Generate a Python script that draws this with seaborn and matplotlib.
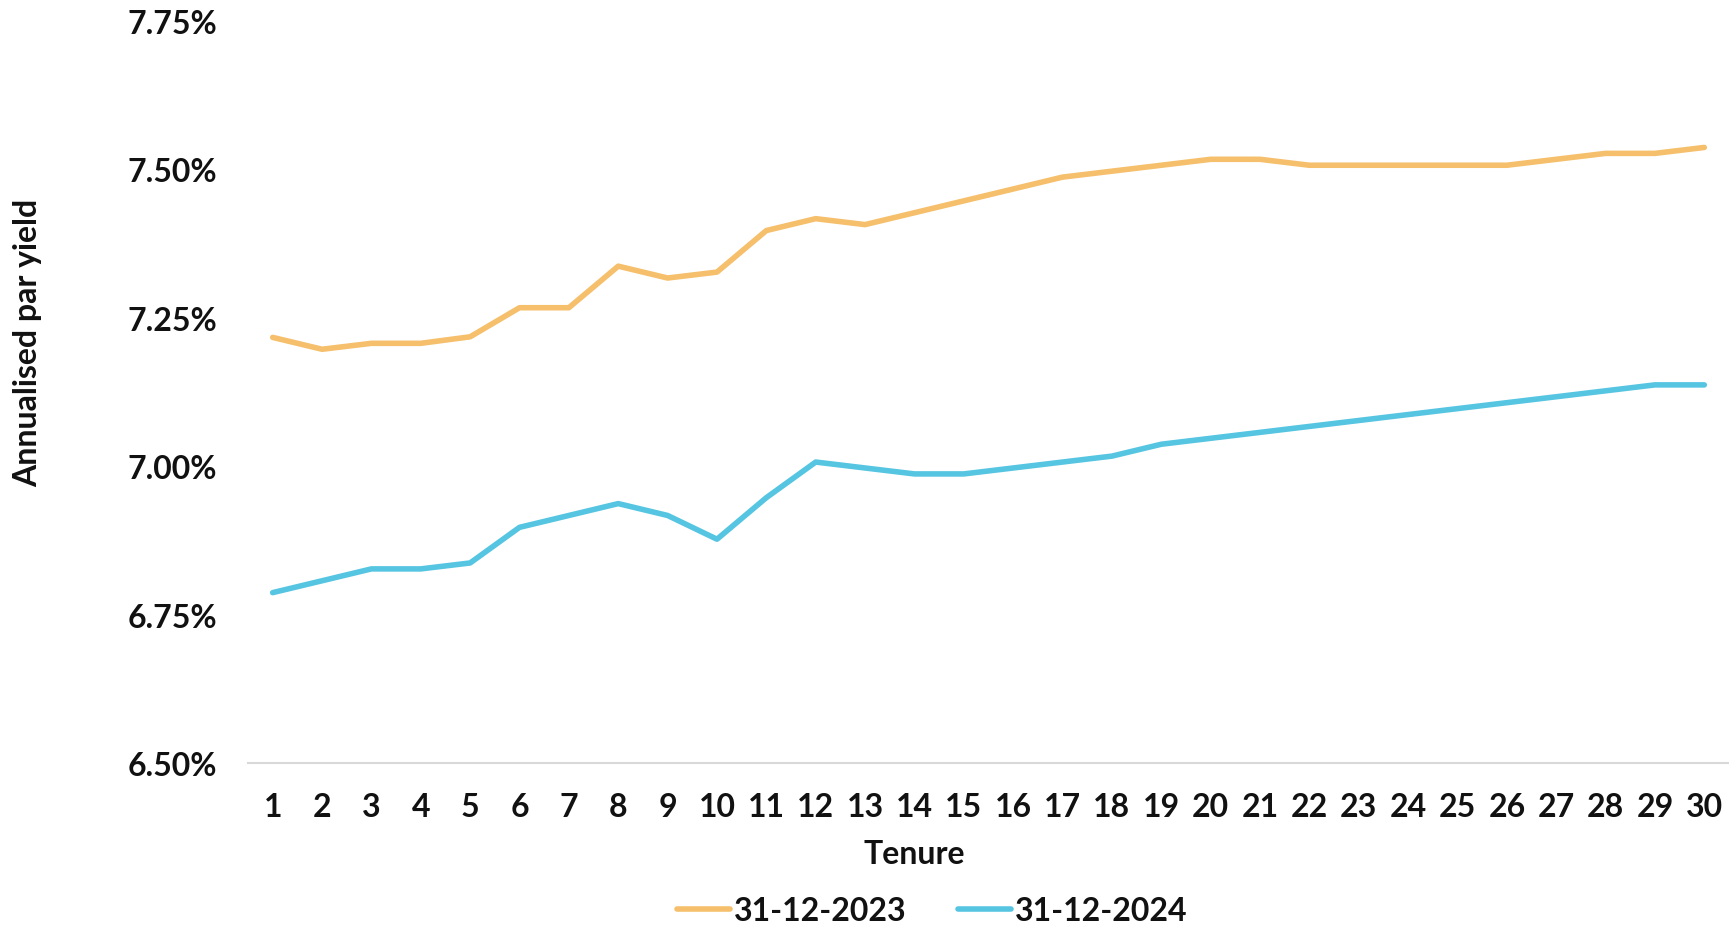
import matplotlib
matplotlib.use("Agg")
import matplotlib.pyplot as plt
import seaborn as sns
import pandas as pd
from matplotlib.ticker import FuncFormatter
from matplotlib.lines import Line2D

tenure = list(range(1, 31))
yield_2023 = [7.217, 7.197, 7.207, 7.207, 7.218, 7.267, 7.267, 7.337, 7.317, 7.327,
              7.397, 7.417, 7.407, 7.427, 7.447, 7.467, 7.487, 7.497, 7.507, 7.517,
              7.517, 7.507, 7.507, 7.507, 7.507, 7.507, 7.517, 7.527, 7.527, 7.537]
yield_2024 = [6.787, 6.807, 6.827, 6.827, 6.837, 6.897, 6.917, 6.937, 6.917, 6.877,
              6.947, 7.007, 6.997, 6.987, 6.987, 6.997, 7.007, 7.017, 7.037, 7.047,
              7.057, 7.067, 7.077, 7.087, 7.097, 7.107, 7.117, 7.127, 7.137, 7.137]
series_names = ["31-12-2023", "31-12-2024"]
yticks = [6.50, 6.75, 7.00, 7.25, 7.50, 7.75]

colors = {"31-12-2023": "#F5BF6B", "31-12-2024": "#56C5E1"}

df = pd.DataFrame({
    "Tenure": tenure * 2,
    "Yield": yield_2023 + yield_2024,
    "Series": [series_names[0]] * 30 + [series_names[1]] * 30,
})

sns.set_theme(style="white")
plt.rcParams['font.family'] = ['Lato', 'DejaVu Sans']
plt.rcParams['font.weight'] = 'bold'

FS = 23
fig = plt.figure(figsize=(17.29, 9.29), dpi=100)
W, H = 1729, 929
ax = fig.add_axes([248 / W, (H - 764) / H, (W - 248) / W, (764 - 22) / H])

sns.lineplot(data=df, x="Tenure", y="Yield", hue="Series", palette=colors,
             linewidth=4.0, ax=ax, legend=False, solid_capstyle="round")

ax.set_xlim(0.5, 30.5)
ax.set_ylim(6.5, 7.75)
ax.set_xticks(tenure)
ax.set_yticks(yticks)
ax.yaxis.set_major_formatter(FuncFormatter(lambda v, p: f"{v:.2f}%"))

for s in ["top", "right", "left"]:
    ax.spines[s].set_visible(False)
ax.spines["bottom"].set_color("#D9D9D9")
ax.spines["bottom"].set_linewidth(1.5)
ax.grid(False)

ax.tick_params(axis="x", length=0, pad=21, labelsize=FS, labelcolor="#111111")
ax.tick_params(axis="y", length=0, pad=22, labelsize=FS, labelcolor="#111111")
for lbl in ax.get_xticklabels() + ax.get_yticklabels():
    lbl.set_fontweight("bold")

ax.set_xlabel("Tenure", fontsize=FS, fontweight="bold", color="#111111", labelpad=11)
ax.xaxis.set_label_coords(0.45, -0.102)
ax.set_ylabel("Annualised par yield", fontsize=FS, fontweight="bold", color="#111111")
ax.yaxis.set_label_coords(-0.139, 0.567)

handles = [Line2D([0], [0], color=colors[n], lw=4.0, solid_capstyle="round") for n in series_names]
leg = fig.legend(handles, series_names, loc="center", bbox_to_anchor=(932 / W, (H - 912) / H),
                 ncol=2, frameon=False, fontsize=FS, handlelength=1.66, handletextpad=0.12,
                 columnspacing=1.6)
for t in leg.get_texts():
    t.set_fontweight("bold")
    t.set_color("#111111")

fig.savefig("out.png", dpi=100)
